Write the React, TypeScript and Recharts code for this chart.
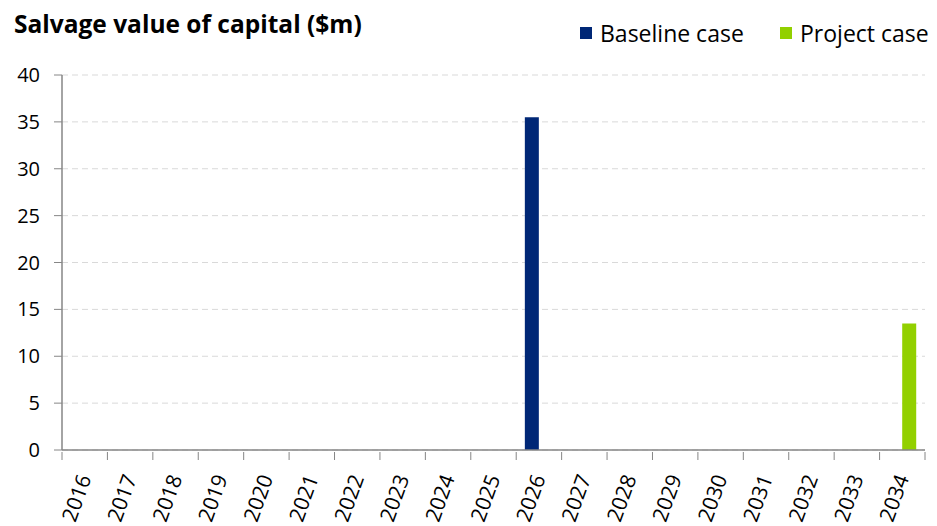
import React from 'react';
import { BarChart, Bar, XAxis, YAxis, CartesianGrid } from 'recharts';

const years = ['2016', '2017', '2018', '2019', '2020', '2021', '2022', '2023', '2024', '2025', '2026', '2027', '2028', '2029', '2030', '2031', '2032', '2033', '2034'];
const baseline: (number | null)[] = [null, null, null, null, null, null, null, null, null, null, 35.5, null, null, null, null, null, null, null, null];
const project: (number | null)[] = [null, null, null, null, null, null, null, null, null, null, null, null, null, null, null, null, null, null, 13.5];
const yTicks = [0, 5, 10, 15, 20, 25, 30, 35, 40];

const data = years.map((year, i) => ({ year, baseline: baseline[i], project: project[i] }));

const W = 937;
const H = 526;
const PLOT_LEFT = 62;
const PLOT_RIGHT = 12;
const BAND = (W - PLOT_LEFT - PLOT_RIGHT) / years.length;
const FONT = '"Open Sans", "Noto Sans", sans-serif';
const AXIS = '#868686';
const BLUE = '#002776';
const GREEN = '#92d000';

const XTick = (props: any) => {
  const { x, y, payload, index } = props;
  const tx = x + 7;
  const ty = y + 26;
  return (
    <g>
      <line x1={x - BAND / 2} y1={y} x2={x - BAND / 2} y2={y + 8} stroke={AXIS} />
      {index === years.length - 1 && (
        <line x1={x + BAND / 2} y1={y} x2={x + BAND / 2} y2={y + 8} stroke={AXIS} />
      )}
      <text
        x={tx}
        y={ty}
        textAnchor="end"
        fontSize={21}
        fontFamily={FONT}
        fill="#000"
        transform={`rotate(-70 ${tx} ${ty})`}
      >
        {payload.value}
      </text>
    </g>
  );
};

const swatch = (color: string) => (
  <span style={{ display: 'inline-block', width: 12, height: 12, background: color, marginRight: 8 }} />
);

export default function App() {
  return (
    <div style={{ position: 'fixed', left: 0, top: 0, width: W, height: H, background: '#fff', overflow: 'hidden' }}>
      <div
        style={{
          position: 'absolute',
          left: 14,
          top: 8,
          fontFamily: FONT,
          fontWeight: 700,
          fontSize: 24.5,
          lineHeight: '32px',
          color: '#000',
        }}
      >
        Salvage value of capital ($m)
      </div>
      <div
        style={{
          position: 'absolute',
          left: 580,
          top: 17,
          display: 'flex',
          fontFamily: FONT,
          fontSize: 23,
          lineHeight: '32px',
          color: '#000',
        }}
      >
        <div style={{ display: 'flex', alignItems: 'center', width: 200 }}>
          {swatch(BLUE)}
          Baseline case
        </div>
        <div style={{ display: 'flex', alignItems: 'center' }}>
          {swatch(GREEN)}
          Project case
        </div>
      </div>
      <div style={{ position: 'absolute', left: 0, top: 0 }}>
        <BarChart
          width={W}
          height={H}
          data={data}
          margin={{ top: 75, right: PLOT_RIGHT, bottom: 0, left: 0 }}
          barCategoryGap="19%"
          barGap={0}
        >
          <CartesianGrid vertical={false} stroke="#d9d9d9" strokeDasharray="6 4" />
          <XAxis
            dataKey="year"
            interval={0}
            height={76}
            tickSize={0}
            tickLine={false}
            axisLine={{ stroke: AXIS, strokeWidth: 1.5 }}
            tick={<XTick />}
          />
          <YAxis
            width={PLOT_LEFT}
            domain={[0, 40]}
            ticks={yTicks}
            tickSize={8}
            tickMargin={14}
            axisLine={{ stroke: AXIS, strokeWidth: 1.5 }}
            tickLine={{ stroke: AXIS }}
            tick={{ fontSize: 20, fontFamily: FONT, fill: '#000' }}
          />
          <Bar dataKey="baseline" name="Baseline case" fill={BLUE} isAnimationActive={false} />
          <Bar dataKey="project" name="Project case" fill={GREEN} isAnimationActive={false} />
        </BarChart>
      </div>
    </div>
  );
}
